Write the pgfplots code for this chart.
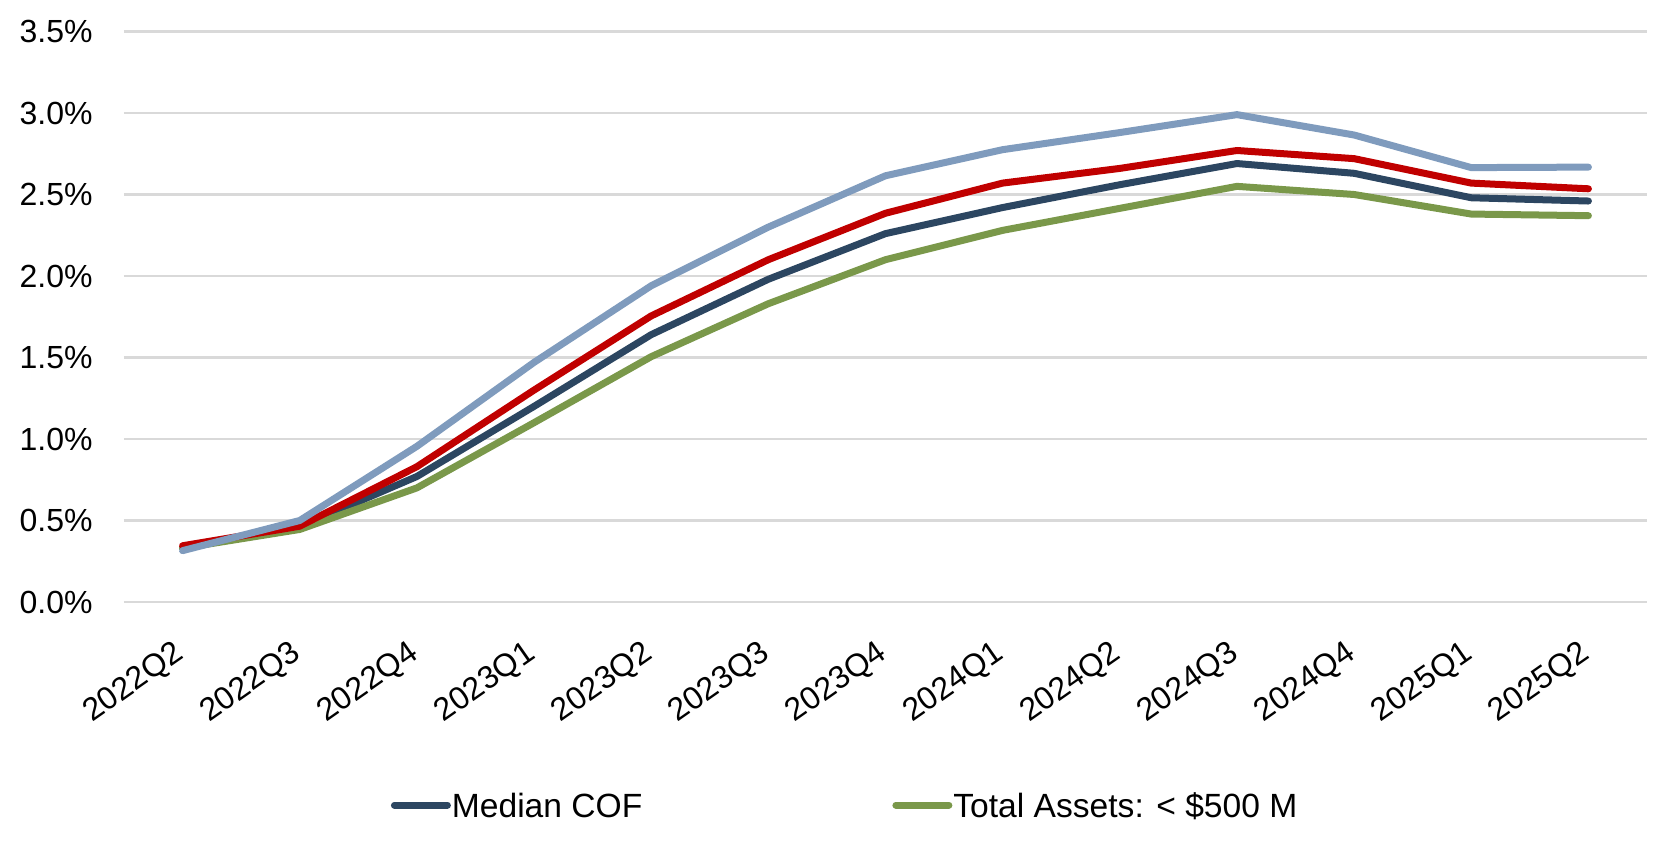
\documentclass[border=0pt]{standalone}
\usepackage{fontspec}
\setmainfont{Liberation Sans}
\usepackage{pgfplots}
\pgfplotsset{compat=1.18}
\definecolor{cnavy}{RGB}{44,70,97}
\definecolor{cgreen}{RGB}{122,152,74}
\definecolor{cred}{RGB}{192,0,0}
\definecolor{cblue}{RGB}{127,155,189}
\definecolor{gridgray}{RGB}{217,217,217}
\begin{document}
\begin{tikzpicture}
\useasboundingbox (-62pt,-127pt) rectangle (777pt,301pt);
\begin{axis}[
  at={(0,0)}, anchor=south west,
  scale only axis, width=761.5pt, height=285.25pt,
  xmin=-0.5, xmax=12.5, ymin=0, ymax=3.5,
  xtick={0,1,2,3,4,5,6,7,8,9,10,11,12},
  xticklabels={2022Q2,2022Q3,2022Q4,2023Q1,2023Q2,2023Q3,2023Q4,2024Q1,2024Q2,2024Q3,2024Q4,2025Q1,2025Q2},
  ytick={0,0.5,1,1.5,2,2.5,3,3.5},
  yticklabel={\pgfmathprintnumber[fixed,fixed zerofill,precision=1]{\tick}\%},
  /pgf/number format/assume math mode=true,
  axis line style={draw=none},
  major tick length=0pt,
  ymajorgrids,
  major grid style={color=gridgray, line width=1.3pt},
  tick label style={font=\fontsize{16}{19}\selectfont},
  yticklabel style={anchor=east, inner sep=0pt, xshift=-15.5pt},
  xticklabel style={rotate=35, anchor=north east, inner sep=0pt, xshift=-14.5pt, yshift=-12pt},
  legend columns=2,
  legend style={at={(0.175,-0.356)}, anchor=west, draw=none, fill=none,
    inner sep=0pt, font=\fontsize{16.8}{19}\selectfont,
    nodes={inner sep=0pt, text depth=0pt},
    /tikz/every odd column/.append style={column sep=0.5pt},
    /tikz/every even column/.append style={column sep=125pt}},
  legend image code/.code={\path[draw=none,fill=none] (0pt,0pt) -- (30pt,0pt);
    \draw[#1] (1.75pt,0pt) -- (28.25pt,0pt);},
]
\addplot[color=cnavy, line width=3.5pt, line join=round, line cap=round] coordinates {
(0,0.33) (1,0.46) (2,0.77) (3,1.20) (4,1.64) (5,1.98) (6,2.26) (7,2.42) (8,2.56) (9,2.69) (10,2.63) (11,2.48) (12,2.46)};
\addlegendentry{Median COF}
\addplot[color=cgreen, line width=3.5pt, line join=round, line cap=round] coordinates {
(0,0.33) (1,0.445) (2,0.70) (3,1.10) (4,1.505) (5,1.83) (6,2.10) (7,2.28) (8,2.415) (9,2.55) (10,2.50) (11,2.38) (12,2.37)};
\addlegendentry{Total Assets: < \$500 M}
\addplot[forget plot, color=cred, line width=3.5pt, line join=round, line cap=round] coordinates {
(0,0.345) (1,0.465) (2,0.83) (3,1.30) (4,1.755) (5,2.10) (6,2.385) (7,2.57) (8,2.66) (9,2.77) (10,2.72) (11,2.57) (12,2.535)};
\addplot[forget plot, color=cblue, line width=3.5pt, line join=round, line cap=round] coordinates {
(0,0.315) (1,0.50) (2,0.955) (3,1.47) (4,1.94) (5,2.30) (6,2.615) (7,2.775) (8,2.88) (9,2.99) (10,2.865) (11,2.665) (12,2.668)};
\end{axis}
\end{tikzpicture}
\end{document}
